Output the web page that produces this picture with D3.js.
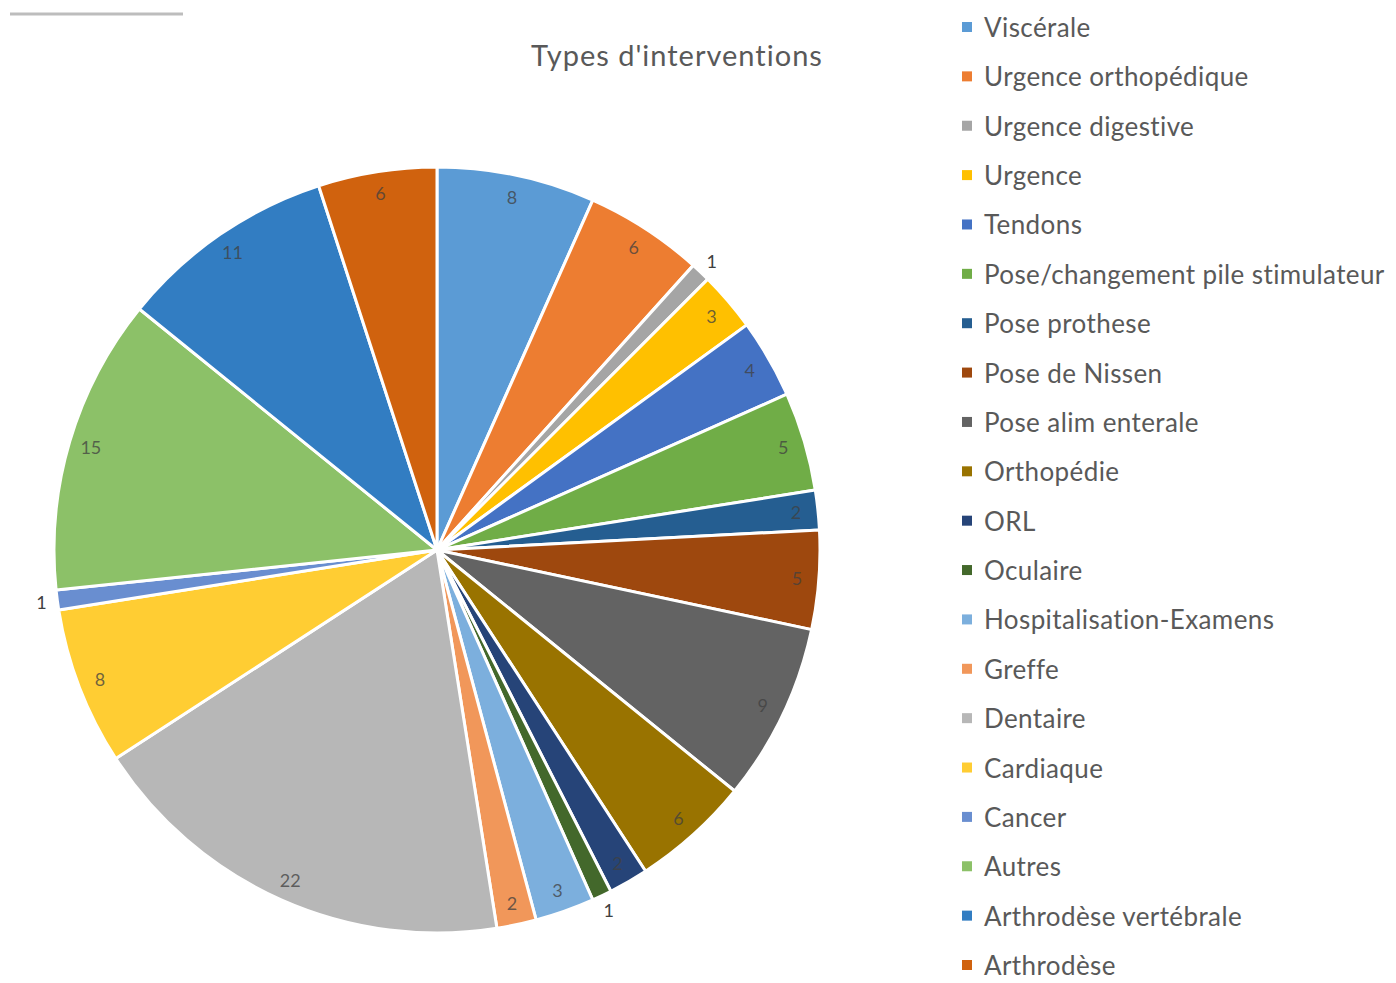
<!DOCTYPE html>
<html><head><meta charset="utf-8">
<script src="https://cdn.jsdelivr.net/npm/d3@7"></script>
<style>html,body{margin:0;padding:0;background:#fff;}</style>
</head><body>
<svg id="chart" width="1396" height="983"></svg>
<script>
const categories = ["Viscérale","Urgence orthopédique","Urgence digestive","Urgence","Tendons","Pose/changement pile stimulateur","Pose prothese","Pose de Nissen","Pose alim enterale","Orthopédie","ORL","Oculaire","Hospitalisation-Examens","Greffe","Dentaire","Cardiaque","Cancer","Autres","Arthrodèse vertébrale","Arthrodèse"];
const values = [8,6,1,3,4,5,2,5,9,6,2,1,3,2,22,8,1,15,11,6];
const colors = ["#5B9BD5","#ED7D31","#A5A5A5","#FFC000","#4472C4","#70AD47","#255E91","#9E480E","#636363","#997300","#264478","#43682B","#7CAFDD","#F1975A","#B7B7B7","#FFCD33","#698ED0","#8CC168","#327DC2","#D0620E"];
const title = "Types d'interventions";

const svg = d3.select("#chart");
const cx = 437, cy = 550, R = 383;

// decorative line top-left
svg.append("line").attr("x1",10).attr("x2",183).attr("y1",14).attr("y2",14)
  .attr("stroke","#bdbdbd").attr("stroke-width",3);

svg.append("text").attr("x",677).attr("y",66).attr("text-anchor","middle")
  .attr("font-family","Lato, 'Open Sans', sans-serif").attr("font-size",29)
  .attr("letter-spacing",1)
  .attr("fill","#595959").text(title);

const data = categories.map((c,i)=>({name:c, value:values[i], color:colors[i]}));
const pie = d3.pie().value(d=>d.value).sort(null);
const arcs = pie(data);
const arc = d3.arc().innerRadius(0).outerRadius(R);
const g = svg.append("g").attr("transform",`translate(${cx},${cy})`);
g.selectAll("path").data(arcs).join("path")
  .attr("d",arc).attr("fill",d=>d.data.color)
  .attr("stroke","#fff").attr("stroke-width",3).attr("stroke-linejoin","round");

const inLabel = d3.arc().innerRadius(361).outerRadius(361);
const outLabel = d3.arc().innerRadius(399).outerRadius(399);
g.selectAll("text.lbl").data(arcs).join("text")
  .attr("class","lbl")
  .attr("transform",d=>`translate(${(d.data.value<=1?outLabel:inLabel).centroid(d)})`)
  .attr("text-anchor","middle").attr("dominant-baseline","central")
  .attr("font-family","Lato, 'Open Sans', sans-serif").attr("font-size",18)
  .attr("fill","#404040")
  .attr("fill-opacity",d=>d.data.value<=1?1:0.75)
  .text(d=>d.data.value);

// legend
const ly = d3.scaleLinear().domain([0,categories.length-1]).range([27,965]);
const lg = svg.append("g");
const items = lg.selectAll("g").data(data).join("g")
  .attr("transform",(d,i)=>`translate(962,${ly(i)})`);
items.append("rect").attr("x",0).attr("y",-5).attr("width",10).attr("height",10).attr("fill",d=>d.color);
items.append("text").attr("x",22).attr("y",0).attr("dominant-baseline","central")
  .attr("font-family","Lato, 'Open Sans', sans-serif").attr("font-size",26)
  .attr("letter-spacing",0.4)
  .attr("fill","#595959").text(d=>d.name);
</script>
</body></html>
